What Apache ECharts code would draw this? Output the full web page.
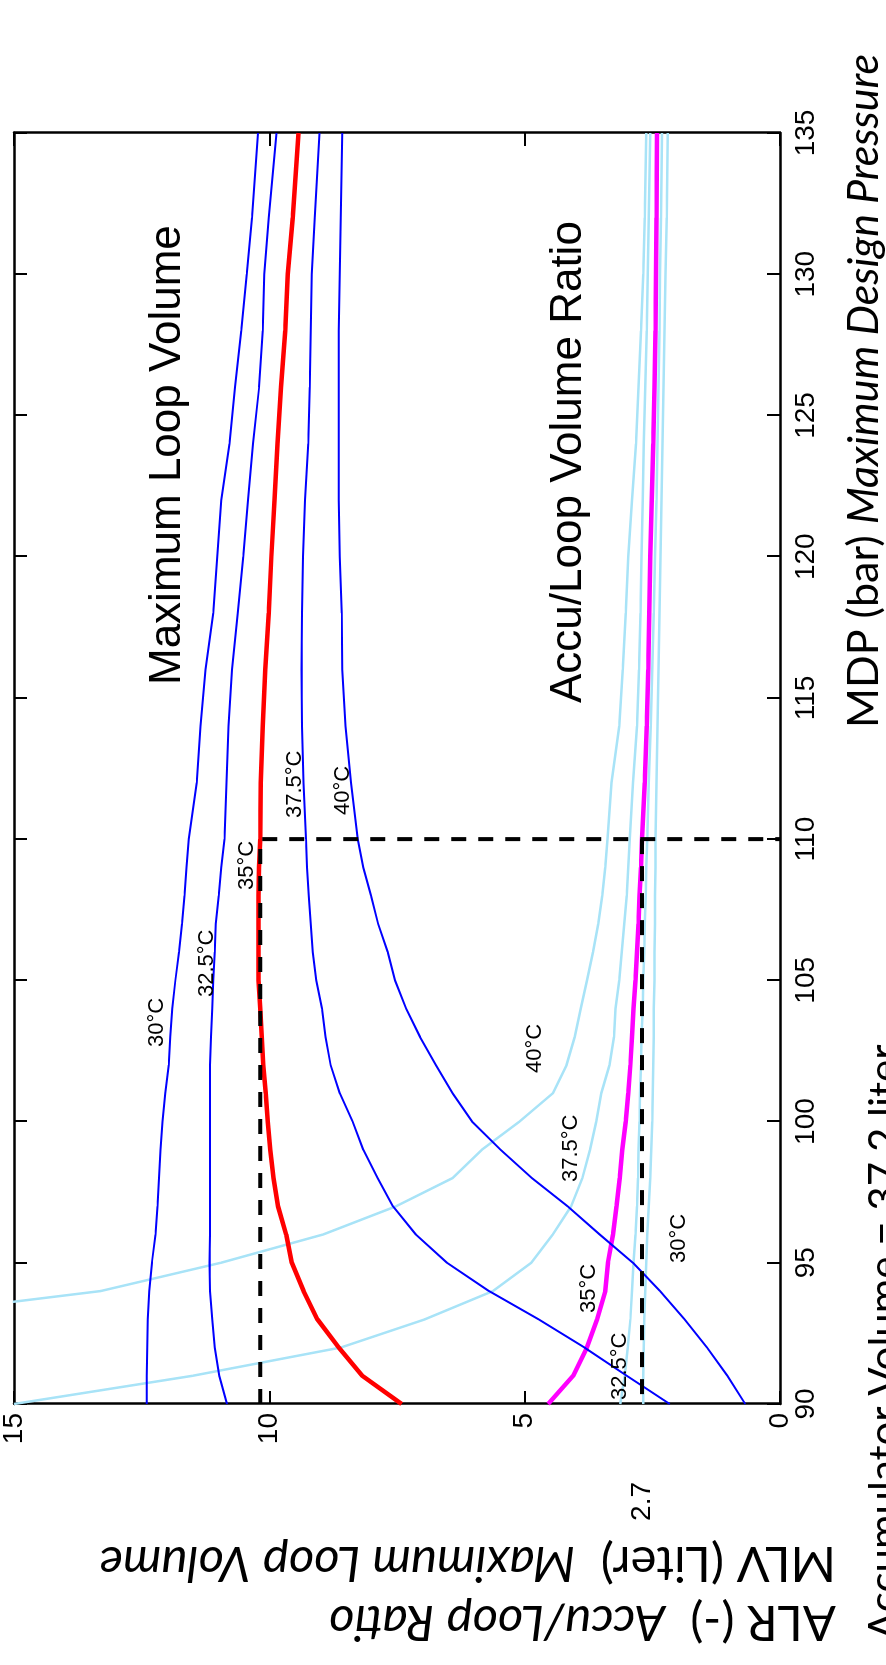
<!DOCTYPE html>
<html>
<head>
<meta charset="utf-8">
<script src="https://cdn.jsdelivr.net/npm/echarts@6/dist/echarts.min.js"></script>
<style>
  html, body { margin: 0; padding: 0; background: #fff; width: 886px; height: 1665px; overflow: hidden; }
  /* The chart is laid out landscape and turned a quarter turn counter-clockwise onto the portrait page. */
  #chart { position: absolute; left: 0; top: 0; width: 1665px; height: 886px;
           transform-origin: 0 0; transform: translate(0, 1665px) rotate(-90deg); }
</style>
</head>
<body>
<div id="chart"></div>
<script>
// Maximum design pressure (bar)
const mdp = [90, 91, 92, 93, 94, 95, 96, 97, 98, 99, 100, 101, 102, 103, 104, 105, 106, 107, 108, 109, 110,
             112, 114, 116, 118, 120, 122, 124, 126, 128, 130, 132, 135];

// Maximum loop volume (liter) per ambient temperature
const mlv30  = [12.40, 12.40, 12.39, 12.38, 12.35, 12.30, 12.23, 12.19, 12.16, 12.13, 12.09, 12.04, 11.97, 11.94, 11.90, 11.84, 11.77, 11.71, 11.66, 11.62, 11.58,
                11.42, 11.35, 11.25, 11.10, 11.02, 10.94, 10.78, 10.67, 10.55, 10.44, 10.34, 10.22];
const mlv325 = [10.83, 10.98, 11.07, 11.12, 11.16, 11.17, 11.16, 11.16, 11.16, 11.16, 11.16, 11.16, 11.16, 11.14, 11.12, 11.10, 11.07, 11.05, 10.99, 10.94, 10.88,
                10.84, 10.80, 10.73, 10.62, 10.51, 10.42, 10.32, 10.20, 10.13, 10.10, 10.01, 9.86];
const mlv35  = [7.41, 8.18, 8.64, 9.06, 9.33, 9.56, 9.67, 9.83, 9.92, 9.98, 10.03, 10.07, 10.12, 10.15, 10.18, 10.21, 10.21, 10.21, 10.21, 10.20, 10.18,
                10.17, 10.13, 10.08, 10.01, 9.96, 9.90, 9.84, 9.77, 9.69, 9.64, 9.54, 9.43];
const mlv375 = [2.16, 3.00, 3.83, 4.73, 5.70, 6.52, 7.13, 7.58, 7.88, 8.16, 8.37, 8.62, 8.80, 8.90, 8.97, 9.08, 9.15, 9.19, 9.23, 9.26, 9.28,
                9.33, 9.36, 9.37, 9.36, 9.34, 9.30, 9.24, 9.21, 9.19, 9.17, 9.11, 9.02];
const mlv40  = [0.68, 1.03, 1.43, 1.87, 2.35, 2.88, 3.53, 4.16, 4.86, 5.47, 6.03, 6.41, 6.74, 7.05, 7.32, 7.54, 7.68, 7.87, 8.01, 8.16, 8.27,
                8.40, 8.51, 8.57, 8.58, 8.62, 8.64, 8.64, 8.64, 8.64, 8.62, 8.60, 8.57];

// Accu/loop volume ratio (-) per ambient temperature
const alr30  = [2.68, 2.68, 2.67, 2.66, 2.64, 2.62, 2.60, 2.57, 2.54, 2.52, 2.50, 2.49, 2.48, 2.47, 2.47, 2.46, 2.46, 2.45, 2.45, 2.44, 2.44,
                2.42, 2.40, 2.38, 2.36, 2.34, 2.32, 2.30, 2.28, 2.26, 2.24, 2.22, 2.20];
const alr325 = [3.13, 3.04, 2.98, 2.93, 2.90, 2.87, 2.83, 2.80, 2.78, 2.77, 2.75, 2.74, 2.72, 2.71, 2.69, 2.68, 2.66, 2.65, 2.63, 2.62, 2.60,
                2.57, 2.53, 2.50, 2.47, 2.45, 2.42, 2.40, 2.38, 2.36, 2.35, 2.33, 2.31];
const alr35  = [4.54, 4.05, 3.78, 3.58, 3.42, 3.37, 3.27, 3.20, 3.14, 3.09, 3.02, 2.97, 2.93, 2.90, 2.87, 2.83, 2.80, 2.77, 2.75, 2.72, 2.70,
                2.65, 2.61, 2.58, 2.56, 2.54, 2.51, 2.48, 2.46, 2.44, 2.43, 2.42, 2.41];
const alr375 = [15.0, 11.5, 8.60, 6.95, 5.62, 4.87, 4.45, 4.09, 3.87, 3.72, 3.60, 3.50, 3.34, 3.25, 3.22, 3.15, 3.10, 3.05, 3.00, 2.97, 2.94,
                2.88, 2.80, 2.76, 2.73, 2.71, 2.69, 2.67, 2.64, 2.61, 2.59, 2.57, 2.54];
const alr40  = [null, null, null, 17.8, 13.3, 10.95, 8.95, 7.52, 6.41, 5.84, 5.10, 4.45, 4.18, 4.02, 3.90, 3.78, 3.66, 3.56, 3.48, 3.42, 3.38,
                3.30, 3.15, 3.08, 3.02, 2.97, 2.90, 2.82, 2.77, 2.72, 2.68, 2.65, 2.62];

// Axis ranges and ticks
const mdpTicks = { min: 90, max: 135, step: 5 };
const valTicks = { min: 0, max: 15, step: 5 };

// Design point read-out: 110 bar at 35 °C, ALR 2.7
const designMdp = 110;
const designAlr = 2.7;
const alrGuideEnd = 87.7;   // the ALR guide runs past the axis to its label
const designMlv = mlv35[mdp.indexOf(designMdp)];

const W = 1665, H = 886;
const chart = echarts.init(document.getElementById('chart'), null, { width: W, height: H, renderer: 'canvas' });

const BLUE = '#0000ff', RED = '#ff0000', MAGENTA = '#ff00ff', LIGHT = '#a8e3f7';
const TICK_FONT = 'Liberation Sans, Arial, sans-serif';
const TITLE_FONT = 'Lato, "Open Sans", sans-serif';

function pairs(vals) {
  return mdp.map((x, i) => [x, vals[i] == null ? '-' : vals[i]]);
}
function curve(name, vals, color, width, z) {
  return { name, type: 'line', data: pairs(vals), symbol: 'none', showSymbol: false,
           lineStyle: { color, width }, itemStyle: { color }, z, silent: true };
}

const axisLine = { show: true, onZero: false, lineStyle: { color: '#000', width: 2.5 } };
const axisTick = { show: true, inside: true, length: 13, lineStyle: { color: '#000', width: 2 } };

function xAx(position, labels) {
  return { type: 'value', position, min: mdpTicks.min, max: mdpTicks.max, interval: mdpTicks.step,
           axisLine, axisTick, splitLine: { show: false },
           axisLabel: { show: labels, color: '#000', fontSize: 28, fontFamily: TICK_FONT, margin: 12 } };
}
function yAx(position, labels) {
  return { type: 'value', position, min: valTicks.min, max: valTicks.max, interval: valTicks.step,
           axisLine, axisTick, splitLine: { show: false },
           axisLabel: { show: labels, color: '#000', fontSize: 28, fontFamily: TICK_FONT, margin: 9 } };
}

const dash = { color: '#000', width: 4, type: [15, 12] };

chart.setOption({
  animation: false,
  backgroundColor: '#fff',
  grid: { left: 261, right: 133, top: 13, bottom: 106 },
  xAxis: [xAx('bottom', true), xAx('top', false)],
  yAxis: [yAx('left', true), yAx('right', false)],
  series: [
    curve('ALR 30°C', alr30, LIGHT, 2.5, 2),
    curve('ALR 32.5°C', alr325, LIGHT, 2.5, 2),
    curve('ALR 37.5°C', alr375, LIGHT, 2.5, 2),
    curve('ALR 40°C', alr40, LIGHT, 2.5, 2),
    curve('ALR 35°C', alr35, MAGENTA, 4.5, 3),
    curve('MLV 30°C', mlv30, BLUE, 2, 3),
    curve('MLV 32.5°C', mlv325, BLUE, 2, 3),
    curve('MLV 37.5°C', mlv375, BLUE, 2, 3),
    curve('MLV 40°C', mlv40, BLUE, 2, 3),
    curve('MLV 35°C', mlv35, RED, 4.5, 4),
    { type: 'line', symbol: 'none', silent: true, z: 6, lineStyle: dash,
      data: [[mdpTicks.min, designMlv], [designMdp, designMlv], [designMdp, valTicks.min]] },
    { type: 'line', symbol: 'none', silent: true, z: 6, clip: false, lineStyle: dash,
      data: [[designMdp, designAlr], [alrGuideEnd, designAlr]] }
  ]
});

// Text placed on the landscape layout: x = text start, b = baseline
function text(str, x, b, size, opts) {
  opts = opts || {};
  return { type: 'text', x, y: b - 0.31 * size, silent: true, z: 10,
           style: Object.assign({ text: str, fill: '#000', fontSize: size, fontFamily: TICK_FONT,
                                  align: 'left', verticalAlign: 'middle' }, opts) };
}

const tempLabels = [
  ['30°C', 618, 164], ['32.5°C', 668, 214], ['35°C', 775, 254], ['37.5°C', 847, 302], ['40°C', 850, 350],
  ['40°C', 592, 542], ['37.5°C', 483, 578], ['35°C', 352, 596], ['32.5°C', 265, 627], ['30°C', 402, 686]
];

const richStyle = (size) => ({
  n: { fontSize: size, fontFamily: TITLE_FONT, fill: '#000' },
  i: { fontSize: size, fontFamily: TITLE_FONT, fontStyle: 'italic', fill: '#000' }
});

// Axis titles of the value axis, reading upward along it
function sideTitle(str, baseline, size) {
  return { type: 'text', x: baseline - 0.32 * size, y: 836, rotation: Math.PI / 2, silent: true, z: 10,
           style: { text: str, rich: richStyle(size), fontSize: size, fontFamily: TITLE_FONT,
                    align: 'left', verticalAlign: 'middle' } };
}

const guideEnd = chart.convertToPixel({ xAxisIndex: 0, yAxisIndex: 0 }, [alrGuideEnd, designAlr]);

const graphics = [
  text('Maximum Loop Volume', 980, 181, 44),
  text('Accu/Loop Volume Ratio', 962, 582, 44),
  text(String(designAlr), guideEnd[0] - 13, guideEnd[1] + 0.31 * 28, 28, { align: 'right' }),
  { type: 'text', x: 937, y: 878 - 0.32 * 43, silent: true, z: 10,
    style: { text: '{n|MDP (bar)} {i|Maximum Design Pressure}', rich: richStyle(43),
             fontSize: 43, fontFamily: TITLE_FONT, align: 'left', verticalAlign: 'middle' } },
  text('Accumulator Volume = 37.2 liter', 25, 898, 42, { fontFamily: TITLE_FONT }),
  sideTitle('{n|MLV (Liter)}  {i|Maximum Loop Volume}', 118, 49),
  sideTitle('{n|ALR (-)}  {i|Accu/Loop Ratio}', 59, 49)
].concat(tempLabels.map(([t, x, b]) => text(t, x, b, 22)));

chart.setOption({ graphic: graphics });
</script>
</body>
</html>
